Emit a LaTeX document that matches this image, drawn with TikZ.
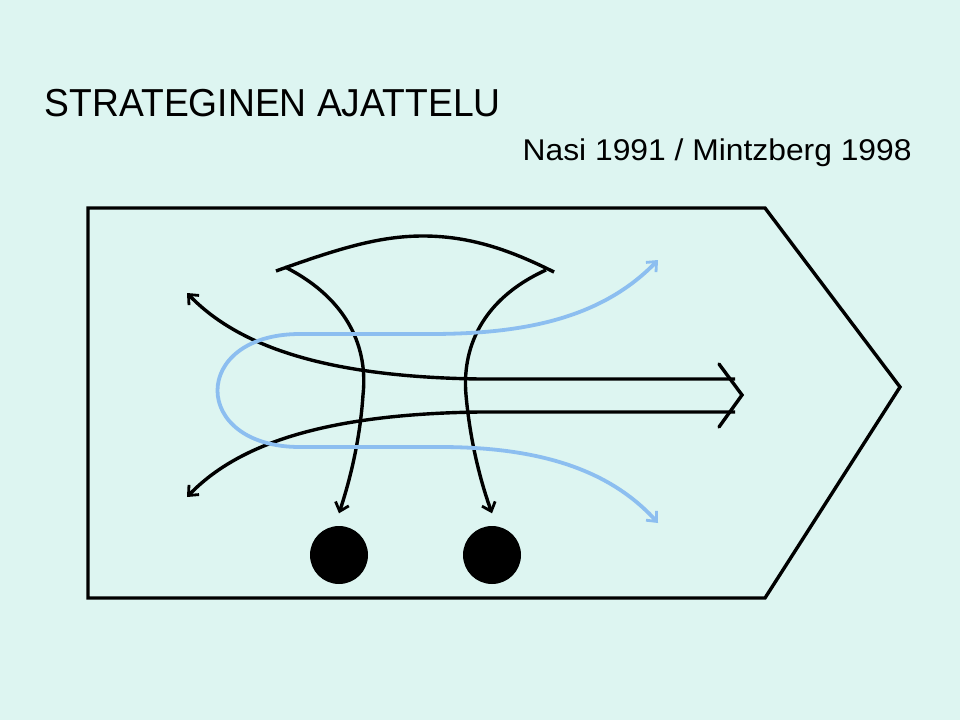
\documentclass[tikz,border=0pt]{standalone}
\usepackage{fontspec}
\setmainfont{Liberation Sans}
\usetikzlibrary{arrows.meta}
\definecolor{bgcyan}{RGB}{221,245,241}
\definecolor{flowblue}{RGB}{140,190,240}
\tikzset{
  barb/.style={-{Straight Barb[length=8pt,width=14pt,line width=2.8pt]}},
  dot/.style={circle,fill=black,minimum size=58pt,inner sep=0pt},
}
\begin{document}
\begin{tikzpicture}[x=1pt,y=-1pt,line width=3.4pt]
  \fill[bgcyan] (0,0) rectangle (960,720);
  \useasboundingbox (0,0) rectangle (960,720);
  \node[anchor=base west,inner sep=0pt,font=\fontsize{39}{44}\selectfont] (title) at (43,116) {\scalebox{0.955}[1]{STRATEGINEN AJATTELU}};
  \node[anchor=base west,inner sep=0pt,font=\fontsize{30}{36}\selectfont] (source) at (521,160) {\scalebox{1.06}[1]{Nasi 1991 / Mintzberg 1998}};
  \draw (88,208) -- (765,208) -- (900,387) -- (765,598) -- (88,598) -- cycle;
  \node[dot] (dotA) at (339,555) {};
  \node[dot] (dotB) at (492,555) {};
  \coordinate (fl) at (285,267);
  \coordinate (fr) at (546,270);
  \coordinate (tip) at (742,395);
  \draw (276,271) .. controls (340,248) and (380,236) .. (423,236) .. controls (470,236) and (510,250) .. (554,272);
  \draw[barb] (fl) .. controls (350,300) and (368,350) .. (363,395) .. controls (360,440) and (350,480) .. ([yshift=11pt]dotA.north);
  \draw[barb] (fr) .. controls (480,300) and (462,350) .. (466,395) .. controls (470,440) and (480,480) .. ([yshift=11pt]dotB.north);
  \draw[barb] (735,379) -- (480,379) .. controls (330,377) and (240,348) .. (187,293);
  \draw[barb] (735,412) -- (480,412) .. controls (330,414) and (240,442) .. (187,497);
  \draw[line cap=round] (719,364) -- (tip) -- (719,427);
  \draw[flowblue,line width=3.8pt,barb] (430,334) -- (300,334) .. controls (190,334) and (190,447) .. (300,447) -- (440,447) .. controls (540,447) and (610,470) .. (658,523);
  \draw[flowblue,line width=3.8pt,barb] (430,334) .. controls (520,334) and (600,320) .. (658,260);
\end{tikzpicture}
\end{document}
